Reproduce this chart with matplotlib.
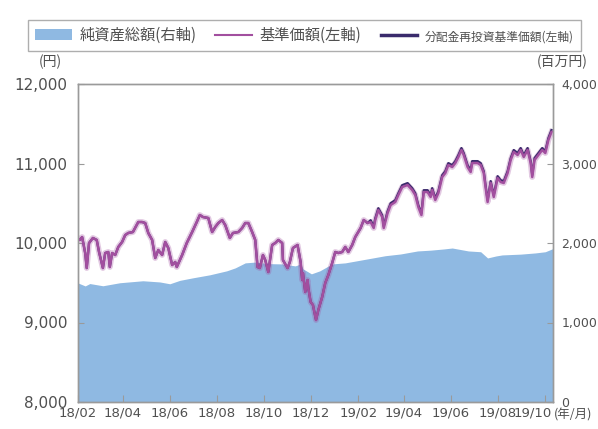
import matplotlib
matplotlib.use("Agg")
import matplotlib.pyplot as plt
from matplotlib.patches import Patch
from matplotlib.lines import Line2D
from matplotlib.transforms import ScaledTranslation
import numpy as np
import pandas as pd

# ---------------- data ----------------
start_date = "2018-02-01"
end_date = "2019-10-12"

# base price (基準価額, yen) : days since start_date
nav_days = [0, 3, 6, 10, 12, 15, 20, 25, 28, 33, 36, 40, 42, 45, 49, 53, 58, 62, 66, 72,
            79, 84, 88, 92, 97, 101, 105, 110, 114, 118, 123, 127, 129, 136, 142, 149, 155, 159,
            163, 170, 175, 179, 183, 188, 192, 198, 202, 209, 214, 218, 222, 227, 231, 234, 237,
            241, 244, 248, 253, 257, 261, 266, 267, 273, 276, 280, 286, 290, 292, 293, 296, 299,
            300, 303, 306, 310, 313, 318, 322, 326, 331, 335, 339, 344, 348, 352, 357, 361, 368,
            372, 377, 381, 385, 387, 391, 396, 398, 403, 407, 413, 417, 422, 429, 435, 439, 443,
            447, 450, 455, 459, 461, 465, 469, 474, 478, 482, 487, 491, 495, 499, 502, 507, 511,
            513, 520, 524, 528, 530, 533, 537, 541, 546, 550, 554, 559, 563, 567, 572, 576, 580,
            585, 589, 591, 594, 599, 604, 608, 612, 616]
nav_values = [10063, 10038, 10075, 9874, 9685, 10000, 10063, 10038, 9887, 9685, 9874, 9887, 9698,
              9874, 9849, 9950, 10013, 10100, 10126, 10138, 10264, 10264, 10251, 10126, 10038,
              9811, 9912, 9849, 10013, 9937, 9723, 9761, 9698, 9849, 10000, 10138, 10264, 10352,
              10327, 10314, 10138, 10201, 10251, 10289, 10226, 10063, 10126, 10138, 10189, 10251,
              10251, 10138, 10038, 9698, 9685, 9849, 9786, 9635, 9975, 10000, 10038, 10000, 9786,
              9685, 9761, 9937, 9975, 9761, 9534, 9622, 9383, 9534, 9434, 9258, 9220, 9031, 9157,
              9321, 9497, 9597, 9748, 9887, 9874, 9887, 9950, 9887, 9975, 10075, 10189, 10289,
              10251, 10264, 10189, 10289, 10415, 10327, 10189, 10377, 10478, 10516, 10604, 10704,
              10730, 10667, 10604, 10453, 10352, 10641, 10641, 10579, 10667, 10541, 10629, 10830,
              10880, 10981, 10956, 11006, 11082, 11170, 11107, 10956, 10893, 11006, 11006, 10981,
              10880, 10730, 10516, 10755, 10579, 10817, 10767, 10755, 10880, 11044, 11145, 11107,
              11170, 11082, 11170, 11006, 10830, 11044, 11107, 11170, 11132, 11296, 11396]

# dividend-reinvested base price: ratio to base price after the distribution
reinvest_from_day = 380
reinvest_ratio = 1.0022

# net assets (純資産総額, million yen)
assets_days = [0, 10, 16, 33, 55, 85, 107, 120, 133, 150, 172, 194, 205, 218, 231, 240, 251,
               266, 283, 290, 293, 304, 315, 331, 348, 377, 400, 420, 442, 459, 476, 487, 508,
               524, 533, 544, 552, 576, 595, 608, 618]
assets_values = [1500, 1460, 1490, 1462, 1500, 1525, 1510, 1487, 1530, 1562, 1600, 1650, 1687,
                 1750, 1760, 1750, 1740, 1737, 1712, 1737, 1675, 1612, 1650, 1737, 1750, 1800,
                 1840, 1862, 1900, 1910, 1925, 1937, 1900, 1890, 1812, 1837, 1850, 1860, 1875,
                 1890, 1930]

xtick_labels = ["18/02", "18/04", "18/06", "18/08", "18/10", "18/12",
                "19/02", "19/04", "19/06", "19/08", "19/10"]
left_ticks = [8000, 9000, 10000, 11000, 12000]
right_ticks = [0, 1000, 2000, 3000, 4000]
legend_labels = ["純資産総額(右軸)", "基準価額(左軸)", "分配金再投資基準価額(左軸)"]

# ---------------- styling ----------------
JP = ["Noto Sans CJK JP", "DejaVu Sans"]
plt.rcParams["font.family"] = ["DejaVu Sans", "Noto Sans CJK JP"]
AREA = "#8fb9e2"
PURPLE = "#a24f9f"
NAVY = "#3a2b6c"
GRAY = "#9a9a9a"
TXT = "#505050"

t0 = pd.Timestamp(start_date)
nav_dates = [t0 + pd.Timedelta(days=d) for d in nav_days]
asset_dates = [t0 + pd.Timedelta(days=d) for d in assets_days]
nav_arr = np.array(nav_values, dtype=float)
reinvest = np.where(np.array(nav_days) >= reinvest_from_day, nav_arr * reinvest_ratio, nav_arr)

fig = plt.figure(figsize=(5.98, 4.29), dpi=100)
ax = fig.add_axes([77.5 / 598, 27 / 429, 475.5 / 598, 318 / 429])
ax2 = ax.twinx()
ax.set_zorder(ax2.get_zorder() + 1)
ax.patch.set_visible(False)

ax2.fill_between(asset_dates, 0, assets_values, color=AREA, lw=0)
ax2.set_ylim(0, 4000)
ax2.set_yticks(right_ticks)
ax2.set_yticklabels([f"{v:,}" for v in right_ticks])

ax.plot(nav_dates, nav_arr, color=PURPLE, lw=4.2, alpha=0.3, solid_joinstyle="round")
ax.plot(nav_dates, reinvest, color=NAVY, lw=1.6, solid_joinstyle="round")
ax.plot(nav_dates, nav_arr, color=PURPLE, lw=1.8, solid_joinstyle="round")
ax.set_ylim(8000, 12000)
ax.set_yticks(left_ticks)
ax.set_yticklabels([f"{v:,}" for v in left_ticks])

xt = pd.date_range("2018-02-01", "2019-10-01", freq="2MS")
ax.set_xticks(xt)
ax.set_xticklabels(xtick_labels)
ax.set_xlim(t0, pd.Timestamp(end_date))

for a in (ax, ax2):
    for s in a.spines.values():
        s.set_color(GRAY)
        s.set_linewidth(1.0)
ax.tick_params(axis="y", direction="in", length=4, color=GRAY, labelsize=11, labelcolor=TXT, pad=7)
ax.tick_params(axis="x", direction="in", length=5, color=GRAY, labelsize=9.5, labelcolor=TXT, pad=3)
ax2.tick_params(axis="y", direction="in", length=4, color=GRAY, labelsize=9, labelcolor=TXT, pad=6)

last = ax.get_xticklabels()[-1]
last.set_horizontalalignment("right")
last.set_transform(last.get_transform() + ScaledTranslation(7 / 100, 0, fig.dpi_scale_trans))

fig.text(50 / 598, 1 - 62 / 429, "(円)", family=JP, fontsize=10, color=TXT, ha="center", va="center")
fig.text(562 / 598, 1 - 62 / 429, "(百万円)", family=JP, fontsize=10, color=TXT, ha="center", va="center")
fig.text(554 / 598, 1 - 415 / 429, "(年/月)", family=JP, fontsize=9, color=TXT, ha="left", va="center")

handles = [Patch(facecolor=AREA, edgecolor="none"),
           Line2D([], [], color=PURPLE, lw=1.5),
           Line2D([], [], color=NAVY, lw=2.5)]
leg = fig.legend(handles, legend_labels, loc="lower left", ncol=3, mode="expand",
                 bbox_to_anchor=(28 / 598, 1 - 51 / 429, 553 / 598, 36 / 429),
                 prop={"family": JP, "size": 11}, frameon=True, fancybox=False,
                 handlelength=2.4, handletextpad=0.5, columnspacing=0.6, borderaxespad=0,
                 borderpad=0.45)
leg.get_frame().set_edgecolor(GRAY)
leg.get_frame().set_linewidth(1.0)
for t in leg.get_texts():
    t.set_color(TXT)
leg.get_texts()[2].set_fontsize(8.5)

fig.savefig("out.png", dpi=100)
